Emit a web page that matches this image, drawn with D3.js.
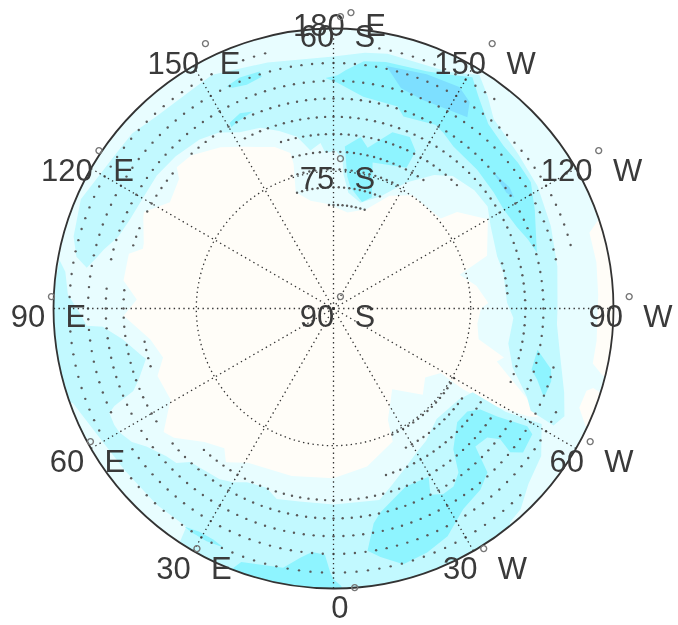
<!DOCTYPE html>
<html><head><meta charset="utf-8">
<script src="https://cdn.jsdelivr.net/npm/d3@7/dist/d3.min.js"></script>
<style>html,body{margin:0;padding:0;background:#fff}svg{display:block;filter:blur(0.45px)}</style>
</head><body><svg id="c" width="678" height="625"></svg>
<script>
// Longitudes: east positive, west negative. Latitudes: degrees south.
const lonTicks=[0,30,60,90,120,150,180,-150,-120,-90,-60,-30];
const lonTickText=["0","30","60","90","120","150","180","150","120","90","60","30"];
const lonTickHemi=["","E","E","E","E","E","E","W","W","W","W","W"];
const latTicks=[60,75.3,90];
const latTickText=["60","75","90"];
const levelColors=["#fffdf8","#e8fdff","#c2f9ff","#8ef4ff","#7ddfff"];

const coreLon=[0,14,29,35,38,44,51,54,60.8,69,74,80.4,88,92.6,97.6,105,107.4,109,115.6,117,123,130,132,137,145,151,160,164.5,164.6,162,168,177,-171.7,-161.7,-153.6,-145,-135,-130,-128,-120,-109,-105,-99,-92,-90,-84,-78,-74,-72,-65,-62,-61,-59,-58,-59,-53,-46,-36,-26,-24,-12];
const coreLat=[71.8,71.5,71.1,69.9,71.0,70.1,68.0,67.5,70.0,69.8,71.0,70.1,67.5,68.9,67.3,67.3,68.6,68.5,67.4,67.2,69.1,68.4,67.4,67.6,68.9,70.2,71.6,72.7,73.9,76.9,78.2,78.8,79.6,78.8,76.5,75.2,75.2,75.0,73.2,70.9,72.6,76.0,74.5,73.4,74.2,74.5,74.1,71.0,71.6,67.1,65.2,66.2,69.5,73.6,76.6,77.7,76.7,79.3,76.7,74.4,72.7];
const rimALon=[-110,-106.5,-100,-93,-83,-78,-76,-76,-90,-100];
const rimALat=[59,61.4,61.4,61.6,61.6,61.6,60.3,59,59,59];
const rimBLon=[-73,-72,-68,-65,-66,-72];
const rimBLat=[60.9,61.5,61.6,60.2,59,59];

const lowerLon=[-39,-20,0,20,33,34,42,52,60.6,70,72,85,100,97.8,93,89,86,85.5,81.6,76,75,70,67.6,66,65,62,60,56.5,53.6,48.5,45.5,43,39,33.7,30,26.5,20.5,16.6,10,0,-13.5,-18,-25,-30,-35,-43,-54,-59,-59,-61,-54.6,-48,-43,-39.5];
const lowerLat=[59,59,59,59,59,61.8,61.7,61.7,61.4,60.3,59,59,60.2,61.0,61.5,62.8,63.5,65.2,67.2,68.9,69.2,67.8,66.8,64.3,63.5,63.4,63.5,64.1,65.1,66.1,66.4,67.5,67.8,68.0,68.5,69.2,69.5,68.7,69.0,69.0,68.9,70.0,71.4,72.2,72.7,73.8,73.4,72.6,68.5,64.5,62.7,61.9,60.6,60.3];
const upperLon=[99.4,101.4,105.5,113.4,125.7,131,137,149,152.6,165,180,-173,-168,-154,-148,-144,-139.8,-130,-121,-110.7,-100.6,-90,-86,-79,-70,-65,-62,-62.6,-65.4,-71.8,-78.7,-87,-92,-102,-107.6,-117.6,-123.5,-130,-138,-143,-150,-157,-165.7,-172.7,-175.7,-176.5,-179,177,175.5,171.7,168,163,158,152,147,141.6,134,127,119.7,113.7,108.5,104.4,101.6];
const upperLat=[63.2,61.9,61.1,60.5,61.4,61.4,62.0,62.0,61.8,62.7,63.0,62.4,62.1,61.8,60.5,61.9,63.4,64.2,64.5,65.1,65.6,66.0,66.0,65.3,63.7,62.7,63.3,66.2,67.2,69.8,70.9,70.7,71.4,71.4,71.6,71.0,70.2,70.3,70.9,72.1,74.4,76.9,78.3,77.5,75.6,74.1,73.1,73.3,72.2,72.9,71.2,70.1,69.1,68.6,67.5,66.9,66.5,66.3,66.4,66.2,65.7,64.6,63.9];

const arcLon=[178,-179,-177,-173,-168,-158.6,-154,-149,-145.6,-140,-133.6,-128.4,-122.6,-116,-105.4,-109.6,-114,-120,-126,-134,-143.5,-148,-151,-160,-162.4,-172,-179];
const arcLat=[65.3,65.0,64.4,63.3,63.0,62.7,62.1,61.1,62.5,64.2,64.8,64.8,64.9,66.0,67.4,67.9,68.5,68.9,68.8,68.6,68.4,67.8,67.5,68.1,67.3,67.1,65.8];
const bayLon=[-174,-176,-171,-168,-161.5,-156,-152.4,-152.6,-165,-161,-165,-172];
const bayLat=[75.8,72.6,71.4,72.4,70.1,69.9,71.0,73.0,73.8,77.4,78.2,76.9];
const eastRimLon=[-78.6,-74.4,-71.5,-67,-70.8,-72.9];
const eastRimLat=[67.7,65.8,65.4,65.5,66.9,67.8];
const sBlobLon=[-8,-10.6,-13,-22,-29.5,-27.5,-30.6,-34,-37.3,-40.4,-47.4,-52.4,-55.5,-56.6,-58.7,-57.7,-52.8,-50.9,-51.9,-50,-45.8,-43.2,-39,-32.9,-26.6,-21,-15.3,-10.7];
const sBlobLat=[63.8,66.6,67.6,69.4,69.3,67.5,66.9,67.0,67.9,70.2,72.0,71.9,70.9,69.0,65.7,64.8,64.5,65.6,67.3,68.5,68.8,65.9,65.0,64.4,62.7,62.0,61.6,62.9];
const southRimLon=[-3,-1.5,0,0.7,2,5,7.5,11,20,21,22,10];
const southRimLat=[59,60.3,61.0,61.7,63.6,63.8,63.1,61.7,61.1,60.3,59,59];
const sliver30Lon=[34.4,31,27.5,24.7,28.6,32.4];
const sliver30Lat=[61.7,62.1,62.1,61.8,61.6,61.6];
const patch160aLon=[154.3,157.9,162.7,162.8,158.8,155.4];
const patch160aLat=[63.6,63.3,63.4,64.0,64.3,64.0];
const patch155bLon=[150.8,154.4,157.7,152.8,150.6];
const patch155bLat=[67.2,66.8,67.2,67.5,67.7];

const peakLon=[-167.7,-158.3,-150.4,-146.6,-145,-151.5,-157,-163];
const peakLat=[63.4,63.0,62.7,63.5,65.0,65.5,65.7,65.3];
const peakSmallLon=[-130.7,-124.5,-121.5,-123.8,-128.8];
const peakSmallLat=[67.5,67.1,67.3,67.7,67.6];

// Stippled rows: latitude of each row and its longitude spans (continuous eastward)
const stippleLats=[61.7,63.7,65.6,67.5,69.45,71.3,73.2,75.1,77,78.9];
const stippleSpans=[
 [[-45,50],[62.5,152.5],[160,165],[190,217.5]],
 [[-65,55],[65,255]],
 [[-75,57.5],[62.5,95],[102.5,257.5]],
 [[-57.5,50],[57.5,95],[107.5,112.5],[117.5,130],[137.5,292.5]],
 [[-55,42.5],[72.5,80],[152.5,292.5]],
 [[-57.5,-17.5],[162.5,225],[255,265]],
 [[-55,-27.5],[165,215]],
 [[-60,-25],[162.5,207.5]],
 [[162.5,202.5]],
 [[177.5,197.5]]
];
const stippleStep=2.5;

const W=678,H=625,cx=333.5,cy=308.5,R=280;
const angle=d3.scaleLinear().domain([0,360]).range([Math.PI,3*Math.PI]);
const radius=d3.scaleLinear().domain([90,60]).range([0,R]);
const svg=d3.select("#c");
const g=svg.append("g").attr("transform",`translate(${cx},${cy})`);
svg.append("defs").append("clipPath").attr("id","disk").append("circle").attr("cx",0).attr("cy",0).attr("r",R);
const field=g.append("g").attr("clip-path","url(#disk)");
field.append("circle").attr("r",R).attr("fill",levelColors[1]);
const outline=d3.lineRadial().angle(d=>angle(d[0])).radius(d=>radius(d[1])).curve(d3.curveLinearClosed);
const layers=[
 [0,coreLon,coreLat],[0,rimALon,rimALat],[0,rimBLon,rimBLat],
 [2,lowerLon,lowerLat],[2,upperLon,upperLat],
 [3,arcLon,arcLat],[3,bayLon,bayLat],[3,eastRimLon,eastRimLat],[3,sBlobLon,sBlobLat],
 [3,southRimLon,southRimLat],[3,sliver30Lon,sliver30Lat],[3,patch160aLon,patch160aLat],[3,patch155bLon,patch155bLat],
 [4,peakLon,peakLat],[4,peakSmallLon,peakSmallLat]
];
field.selectAll("path.region").data(layers).join("path").attr("class","region")
 .attr("d",d=>outline(d3.zip(d[1],d[2]))).attr("fill",d=>levelColors[d[0]]);

const toXY=(lon,lat)=>{const a=angle(lon),r=radius(lat);return [r*Math.sin(a),-r*Math.cos(a)];};
const stipple=stippleLats.flatMap((lat,i)=>stippleSpans[i].flatMap(s=>d3.range(s[0],s[1]+0.01,stippleStep).map(lon=>toXY(lon,lat))));
g.append("g").selectAll("circle").data(stipple).join("circle")
 .attr("cx",d=>d[0]).attr("cy",d=>d[1]).attr("r",1.2).attr("fill","#5a5a5a");

const grid=g.append("g").attr("fill","none").attr("stroke","#333").attr("stroke-width",1.3).attr("stroke-dasharray","1.4 3.4");
grid.append("circle").attr("r",radius(latTicks[1]));
grid.selectAll("line").data(lonTicks).join("line")
 .attr("x1",0).attr("y1",0)
 .attr("x2",d=>toXY(d,60)[0]).attr("y2",d=>toXY(d,60)[1]);
g.append("circle").attr("r",R).attr("fill","none").attr("stroke","#333").attr("stroke-width",1.8);

function label(x,y,num,hemi,rise=16){
 const t=svg.append("text").attr("x",x).attr("y",y).attr("text-anchor","middle")
  .attr("font-family","'Liberation Sans',Arial,sans-serif").attr("font-size",31).attr("fill","#3a3a3a");
 t.append("tspan").text(num);
 t.append("tspan").attr("font-size",26).attr("fill","#777").attr("dy",-rise).attr("dx",1).text("°");
 if(hemi) t.append("tspan").attr("dy",rise).attr("dx",9).text(hemi);
}
const labelR=291;
lonTicks.forEach((lon,i)=>{
 const a=angle(lon);
 label(cx+labelR*Math.sin(a)+(lon===0?12:6),cy-labelR*Math.cos(a)+18,lonTickText[i],lonTickHemi[i],lon===180?9:16);
});
latTicks.forEach((lat,i)=>label(cx+4,cy-radius(lat)+18,latTickText[i],"S"));
</script></body></html>
